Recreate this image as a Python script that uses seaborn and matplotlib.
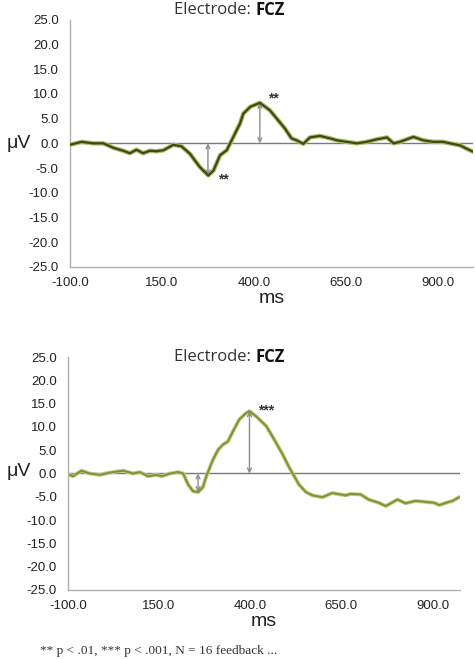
import numpy as np
import matplotlib.pyplot as plt
import pandas as pd
import seaborn as sns

# top trace (ms, uV)
top_ms = [-100, -68, -37, -9, 18, 45, 63, 81, 99, 117, 136, 154, 181, 203, 226, 253, 276,
          290, 308, 326, 344, 362, 371, 390, 416, 443, 462, 484, 502, 516, 534, 552, 579,
          607, 626, 652, 679, 706, 733, 761, 779, 796, 833, 860, 887, 914, 932, 959, 978, 995]
top_uv = [-0.3, 0.3, 0.0, 0.0, -0.9, -1.5, -2.0, -1.3, -2.0, -1.5, -1.6, -1.4, -0.3, -0.6, -2.1, -4.8, -6.5,
          -5.5, -2.4, -1.4, 1.3, 4.0, 6.0, 7.4, 8.2, 6.7, 5.0, 3.0, 1.0, 0.6, -0.1, 1.2, 1.5,
          1.0, 0.6, 0.3, 0.0, 0.3, 0.8, 1.2, 0.0, 0.3, 1.3, 0.6, 0.3, 0.3, 0.0, -0.4, -1.1, -1.7]

# bottom trace (ms, uV)
bot_ms = [-95, -86, -63, -40, -12, 15, 52, 79, 97, 120, 143, 157, 180, 202, 216, 230, 243,
          257, 270, 280, 298, 312, 325, 339, 353, 370, 389, 398, 416, 444, 466, 489, 507,
          521, 534, 553, 571, 598, 625, 662, 675, 703, 725, 753, 772, 804, 826, 853, 881,
          905, 919, 937, 955, 973]
bot_uv = [-0.3, -0.6, 0.6, 0.0, -0.3, 0.2, 0.6, 0.0, 0.3, -0.6, -0.3, -0.6, 0.0, 0.3, 0.0, -2.4, -3.8,
          -4.0, -3.0, -0.5, 3.0, 5.1, 6.2, 6.9, 9.1, 11.6, 13.0, 13.4, 12.3, 10.2, 7.3, 4.1, 1.3,
          -0.6, -2.4, -4.0, -4.7, -5.1, -4.2, -4.7, -4.4, -4.5, -5.6, -6.3, -7.0, -5.6, -6.4, -5.9, -6.1,
          -6.3, -6.8, -6.3, -5.9, -5.1]

yticks = [25, 20, 15, 10, 5, 0, -5, -10, -15, -20, -25]
xticks = [-100, 150, 400, 650, 900]

# significance arrows: (ms, peak uV, label, label ms, label uV)
top_marks = [(275, -6.5, '**', 316, -7.4), (416, 8.2, '**', 452, 9.1)]
bot_marks = [(257, -4.0, '', 0, 0), (398, 13.4, '***', 444, 13.6)]

sns.set_style("white")
plt.rcParams['font.family'] = ['Liberation Sans', 'DejaVu Sans']

fig = plt.figure(figsize=(4.75, 6.59), dpi=100)
ax1 = fig.add_axes([0.147, 0.595, 0.849, 0.375])
ax2 = fig.add_axes([0.143, 0.105, 0.825, 0.353])

df_top = pd.DataFrame({'ms': top_ms, 'uV': top_uv})
df_bot = pd.DataFrame({'ms': bot_ms, 'uV': bot_uv})

grey = '#8c8c8c'


def style(ax, xmax, marks):
    ax.axhline(0, color='#7a7a7a', lw=1.0, zorder=1)
    ax.set_xlim(-100, xmax)
    ax.set_ylim(-25, 25)
    ax.set_yticks(yticks)
    ax.set_yticklabels([f'{v:.1f}' for v in yticks])
    ax.set_xticks(xticks + [xmax])
    ax.set_xticklabels([f'{v:.1f}' for v in xticks] + [''])
    for s in ['top', 'right']:
        ax.spines[s].set_visible(False)
    for s in ['left', 'bottom']:
        ax.spines[s].set_color('#b0b0b0')
        ax.spines[s].set_linewidth(1.0)
    ax.tick_params(axis='both', direction='inout', length=6, width=1.0, color='#b0b0b0',
                   labelsize=9.5, labelcolor='#222222')
    ax.tick_params(axis='x', pad=4)
    ax.tick_params(axis='y', pad=5)
    ax.set_xlabel('ms', fontsize=14, labelpad=1, color='#222222')
    ax.set_ylabel('')
    for xm, ym, lab, lx, ly in marks:
        ax.annotate('', xy=(xm, ym), xytext=(xm, 0),
                    arrowprops=dict(arrowstyle='<->', color=grey, lw=1.0,
                                    shrinkA=0, shrinkB=0, mutation_scale=7))
        if lab:
            ax.text(lx, ly, lab, fontsize=10, fontweight='bold', color='#333333',
                    ha='center', va='center')


# top chart: dark olive line with light halo
sns.lineplot(data=df_top, x='ms', y='uV', ax=ax1, color='#a9bd62', lw=3.2, zorder=3)
sns.lineplot(data=df_top, x='ms', y='uV', ax=ax1, color='#3d4a18', lw=1.6, zorder=4)
style(ax1, 995, top_marks)

# bottom chart: lighter olive line
sns.lineplot(data=df_bot, x='ms', y='uV', ax=ax2, color='#c3d08e', lw=2.8, zorder=3)
sns.lineplot(data=df_bot, x='ms', y='uV', ax=ax2, color='#7f9635', lw=1.5, zorder=4)
style(ax2, 975, bot_marks)

for y_title, y_uv in [(0.985, 0.783), (0.458, 0.284)]:
    fig.text(0.537, y_title, 'Electrode: ', ha='right', va='center', fontsize=12,
             color='#333333', family=['Open Sans', 'DejaVu Sans'])
    fig.text(0.537, y_title, 'FCZ', ha='left', va='center', fontsize=12, fontweight='bold',
             color='#111111', family=['Open Sans', 'DejaVu Sans'])
    fig.text(0.015, y_uv, 'μV', ha='left', va='center', fontsize=14, color='#222222')

fig.text(0.085, 0.003, '** p < .01, *** p < .001, N = 16 feedback ...', ha='left', va='bottom',
         fontsize=9.5, color='#333333', family=['Liberation Serif', 'DejaVu Serif'])

fig.savefig('out.png', dpi=100)
